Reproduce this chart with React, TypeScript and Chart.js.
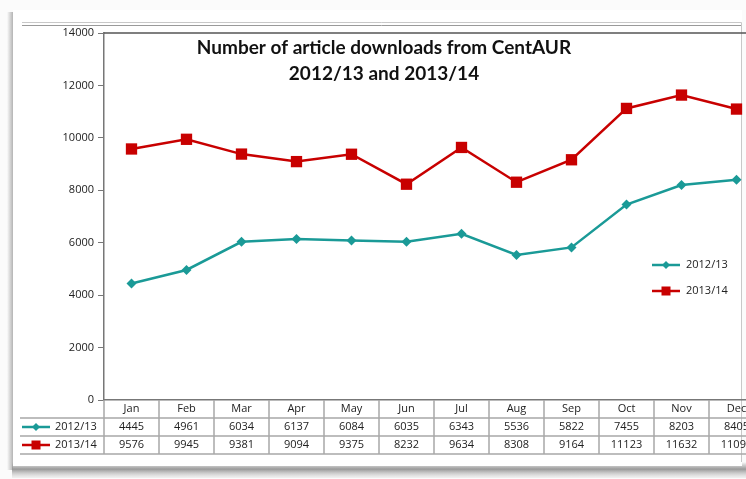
import { useEffect, useRef } from "react";
import { Chart, registerables } from "chart.js";

Chart.register(...registerables);

const months = ["Jan", "Feb", "Mar", "Apr", "May", "Jun", "Jul", "Aug", "Sep", "Oct", "Nov", "Dec"];
const series1Label = "2012/13";
const series1 = [4445, 4961, 6034, 6137, 6084, 6035, 6343, 5536, 5822, 7455, 8203, 8405];
const series2Label = "2013/14";
const series2 = [9576, 9945, 9381, 9094, 9375, 8232, 9634, 8308, 9164, 11123, 11632, 11098];
const yMin = 0;
const yMax = 14000;
const yStep = 2000;
const titleLines = ["Number of article downloads from CentAUR", "2012/13 and 2013/14"];

const TEAL = "#1a9a97";
const RED = "#c80000";
const FONT = "'Open Sans', sans-serif";
const TITLE_FONT = "Lato, sans-serif";
const CW = 790;
const CH = 479;

function drawDiamond(ctx: CanvasRenderingContext2D, x: number, y: number, r: number, color: string) {
  ctx.save();
  ctx.fillStyle = color;
  ctx.beginPath();
  ctx.moveTo(x - r, y);
  ctx.lineTo(x, y - r);
  ctx.lineTo(x + r, y);
  ctx.lineTo(x, y + r);
  ctx.closePath();
  ctx.fill();
  ctx.restore();
}

function drawSquare(ctx: CanvasRenderingContext2D, x: number, y: number, s: number, color: string) {
  ctx.save();
  ctx.fillStyle = color;
  ctx.fillRect(x - s / 2, y - s / 2, s, s);
  ctx.restore();
}

function drawLegendLine(ctx: CanvasRenderingContext2D, x1: number, x2: number, y: number, color: string) {
  ctx.save();
  ctx.strokeStyle = color;
  ctx.lineWidth = 2.5;
  ctx.beginPath();
  ctx.moveTo(x1, y);
  ctx.lineTo(x2, y);
  ctx.stroke();
  ctx.restore();
}

const framePlugin = {
  id: "frame",
  beforeDraw(chart: any) {
    const ctx: CanvasRenderingContext2D = chart.ctx;
    ctx.save();
    ctx.fillStyle = "#fbfbfb";
    ctx.fillRect(0, 0, CW, CH);
    // bottom shadow
    const g = ctx.createLinearGradient(0, 462, 0, 478);
    g.addColorStop(0, "rgba(120,120,120,0)");
    g.addColorStop(0.45, "rgba(120,120,120,0.75)");
    g.addColorStop(1, "rgba(200,200,200,0.2)");
    ctx.fillStyle = g;
    ctx.fillRect(12, 462, CW, 16);
    // left shadow
    const g2 = ctx.createLinearGradient(7, 0, 13, 0);
    g2.addColorStop(0, "rgba(150,150,150,0)");
    g2.addColorStop(1, "rgba(150,150,150,0.7)");
    ctx.fillStyle = g2;
    ctx.fillRect(7, 12, 6, 458);
    // white box
    ctx.fillStyle = "#ffffff";
    ctx.fillRect(13, 10, 729, 456);
    // light lines
    ctx.strokeStyle = "#c8c8c8";
    ctx.lineWidth = 1;
    ctx.beginPath();
    ctx.moveTo(22, 22.5);
    ctx.lineTo(741.5, 22.5);
    ctx.moveTo(741.5, 22.5);
    ctx.lineTo(741.5, 462);
    ctx.stroke();
    ctx.strokeStyle = "#9a9a9a";
    ctx.beginPath();
    ctx.moveTo(22, 25.5);
    ctx.lineTo(741, 25.5);
    ctx.stroke();
    ctx.restore();
  },
  afterDraw(chart: any) {
    const ctx: CanvasRenderingContext2D = chart.ctx;
    const area = chart.chartArea;
    const xs = chart.scales.x;
    ctx.save();
    // top border of plot
    ctx.strokeStyle = "#555555";
    ctx.lineWidth = 1.5;
    ctx.beginPath();
    ctx.moveTo(area.left, area.top);
    ctx.lineTo(CW, area.top);
    ctx.stroke();

    // title
    ctx.fillStyle = "#111111";
    ctx.font = `bold 19px ${TITLE_FONT}`;
    ctx.textAlign = "center";
    ctx.textBaseline = "middle";
    ctx.fillText(titleLines[0], 384, 48);
    ctx.fillText(titleLines[1], 384, 74);

    // data table
    const rowTop = area.bottom;
    const rowH = 18;
    const tableLeft = 20;
    const colW = xs.getPixelForValue(1) - xs.getPixelForValue(0);
    ctx.strokeStyle = "#a8a8a8";
    ctx.lineWidth = 1.5;
    ctx.beginPath();
    for (let r = 1; r <= 3; r++) {
      const y = rowTop + r * rowH;
      ctx.moveTo(r === 1 ? area.left : tableLeft, y);
      ctx.lineTo(CW, y);
    }
    ctx.moveTo(tableLeft, rowTop + rowH);
    ctx.lineTo(area.left, rowTop + rowH);
    for (let i = 0; i <= months.length; i++) {
      const x = area.left + i * colW;
      ctx.moveTo(x, rowTop);
      ctx.lineTo(x, rowTop + 3 * rowH);
    }
    ctx.stroke();

    ctx.fillStyle = "#222222";
    ctx.font = `11px ${FONT}`;
    ctx.textAlign = "center";
    ctx.textBaseline = "middle";
    months.forEach((m, i) => {
      const x = xs.getPixelForValue(i);
      ctx.fillText(m, x, rowTop + rowH / 2);
      ctx.fillText(String(series1[i]), x, rowTop + rowH * 1.5);
      ctx.fillText(String(series2[i]), x, rowTop + rowH * 2.5);
    });

    // row labels
    const y1 = rowTop + rowH * 1.5;
    const y2 = rowTop + rowH * 2.5;
    drawLegendLine(ctx, 22, 50, y1, TEAL);
    drawDiamond(ctx, 36, y1, 4, TEAL);
    drawLegendLine(ctx, 22, 50, y2, RED);
    drawSquare(ctx, 36, y2, 9, RED);
    ctx.fillStyle = "#222222";
    ctx.textAlign = "left";
    ctx.fillText(series1Label, 55, y1);
    ctx.fillText(series2Label, 55, y2);

    // inner legend
    const ly1 = 265;
    const ly2 = 291;
    drawLegendLine(ctx, 652, 680, ly1, TEAL);
    drawDiamond(ctx, 666, ly1, 4, TEAL);
    drawLegendLine(ctx, 652, 680, ly2, RED);
    drawSquare(ctx, 666, ly2, 9, RED);
    ctx.fillStyle = "#222222";
    ctx.fillText(series1Label, 686, ly1);
    ctx.fillText(series2Label, 686, ly2);
    ctx.restore();
  },
};

export default function App() {
  const ref = useRef<HTMLCanvasElement | null>(null);

  useEffect(() => {
    if (!ref.current) return;
    const chart = new Chart(ref.current, {
      type: "line",
      data: {
        labels: months,
        datasets: [
          {
            label: series1Label,
            data: series1,
            borderColor: TEAL,
            backgroundColor: TEAL,
            borderWidth: 2.5,
            pointStyle: "rectRot",
            pointRadius: 5,
            pointBorderWidth: 0,
            tension: 0,
          },
          {
            label: series2Label,
            data: series2,
            borderColor: RED,
            backgroundColor: RED,
            borderWidth: 2.5,
            pointStyle: "rect",
            pointRadius: 8,
            pointBorderWidth: 0,
            tension: 0,
          },
        ],
      },
      options: {
        responsive: false,
        animation: false,
        devicePixelRatio: 1,
        layout: { padding: { top: 33, left: 0, right: CW - 764, bottom: 0 } },
        plugins: {
          legend: { display: false },
          title: { display: false },
          tooltip: { enabled: false },
        },
        scales: {
          x: {
            type: "category",
            offset: true,
            grid: { display: false, drawTicks: false },
            ticks: { display: false },
            border: { display: true, color: "#777777", width: 1.5 },
            afterFit: (s: any) => {
              s.height = 79;
            },
          },
          y: {
            min: yMin,
            max: yMax,
            ticks: {
              stepSize: yStep,
              color: "#222222",
              font: { family: FONT, size: 11 },
              padding: 4,
              callback: (v: any) => String(v),
            },
            grid: { drawOnChartArea: false, drawTicks: true, tickLength: 6, color: "#777777" },
            border: { display: true, color: "#777777", width: 1.5 },
            afterFit: (s: any) => {
              s.width = 104;
            },
          },
        },
      } as any,
      plugins: [framePlugin],
    });
    return () => chart.destroy();
  }, []);

  return (
    <div style={{ position: "fixed", left: 0, top: 0, width: 746, height: 479, overflow: "hidden", background: "#fff" }}>
      <canvas ref={ref} width={CW} height={CH} style={{ width: CW, height: CH, display: "block" }} />
    </div>
  );
}
